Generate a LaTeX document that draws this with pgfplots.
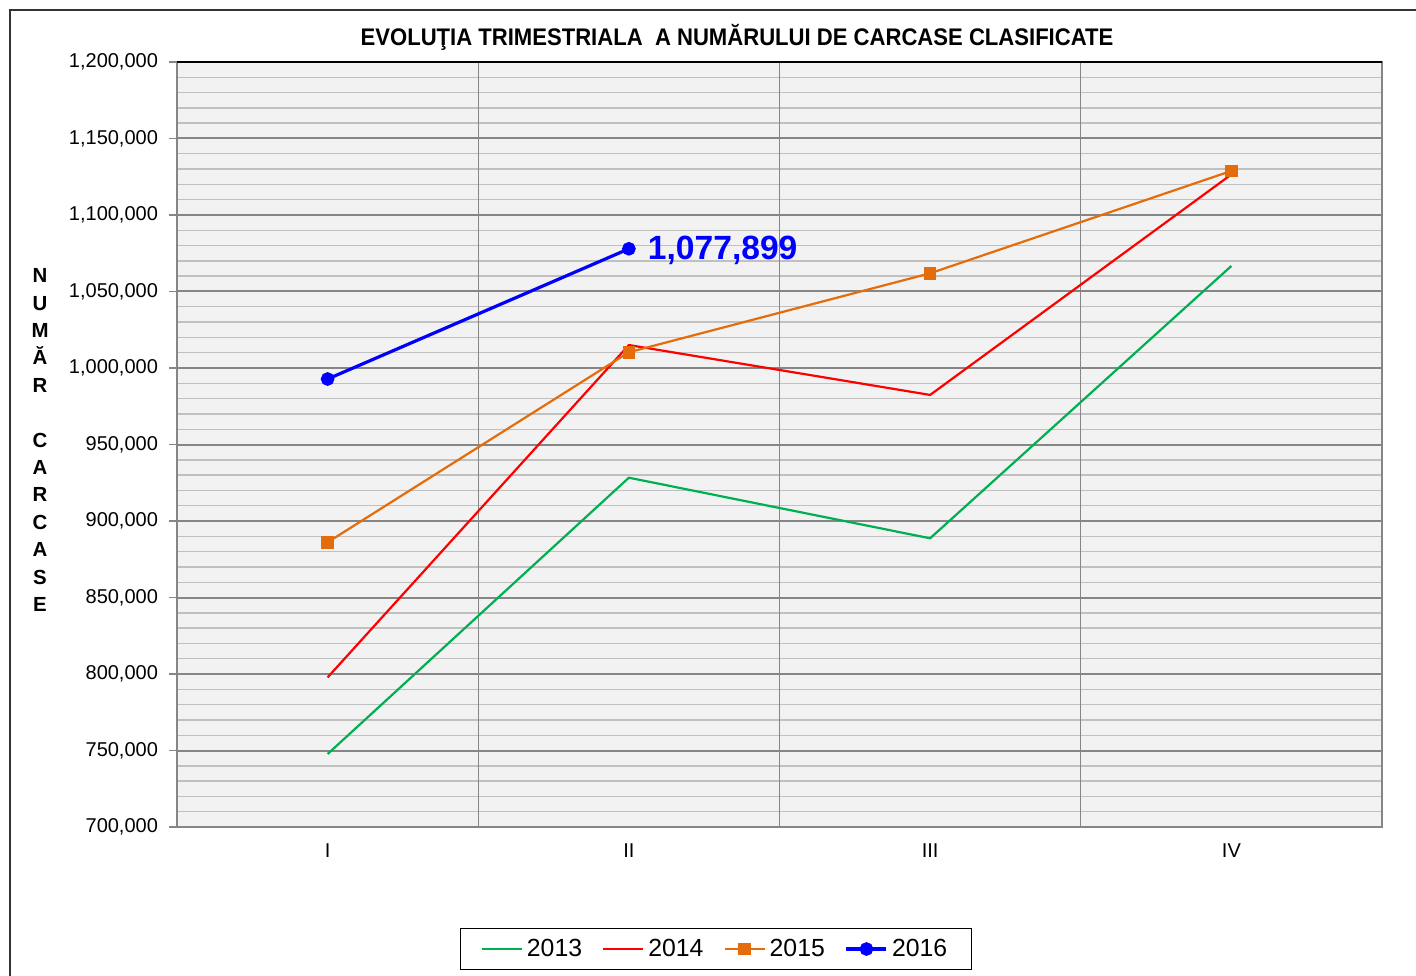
\documentclass[border=0pt]{standalone}
\usepackage{pgfplots}
\pgfplotsset{compat=1.18}
\usepackage{graphicx}
\usepackage{fontspec}
\setmainfont{Liberation Sans}
\definecolor{c13}{RGB}{0,176,80}
\definecolor{c14}{RGB}{255,0,0}
\definecolor{c15}{RGB}{228,108,10}
\definecolor{c16}{RGB}{0,0,255}
\definecolor{bgc}{RGB}{242,242,242}
\definecolor{majg}{RGB}{134,134,134}
\definecolor{ming}{RGB}{192,192,192}
\begin{document}
\begin{tikzpicture}[x=1pt,y=1pt]
\useasboundingbox (0,0) rectangle (708,487.5);
\draw[line width=0.8pt, black!80] (5,-5) -- (5,482.5) -- (720,482.5);
\begin{axis}[
  at={(88.5pt,74pt)}, anchor=south west,
  scale only axis, width=602.5pt, height=382.5pt,
  xmin=-0.5, xmax=3.5, ymin=700000, ymax=1200000,
  axis background/.style={fill=bgc},
  xtick={0,1,2,3}, xticklabels={I,II,III,IV},
  major x tick style={draw=none},
  extra x ticks={-0.5,0.5,1.5,2.5,3.5}, extra x tick labels={},
  extra x tick style={grid=major, major grid style={majg, line width=0.6pt}, major tick length=4pt, tick style={majg, line width=0.6pt}},
  ytick={700000,750000,...,1200000},
  minor y tick num=4,
  ymajorgrids, yminorgrids,
  major y grid style={majg, line width=1pt},
  minor y grid style={ming, line width=0.7pt},
  minor tick length=0pt,
  major tick length=4pt,
  tick align=outside, tick pos=left,
  y tick style={majg, line width=0.8pt},
  axis line style={majg, line width=1pt},
  scaled y ticks=false,
  yticklabel style={/pgf/number format/fixed, /pgf/number format/1000 sep={,}, /pgf/number format/assume math mode=true, xshift=-2pt},
  ticklabel style={font=\fontsize{10}{12}\selectfont},
  xticklabel style={yshift=-1pt},
  legend columns=4,
  legend style={at={(0.4473,-0.1595)}, anchor=center, draw=black, line width=0.6pt,
    font=\fontsize{12.4}{14}\selectfont, inner xsep=10pt, inner ysep=3pt,
    /tikz/every even column/.append style={column sep=8pt}},
  legend image code/.code={\draw[mark repeat=2, mark phase=2, #1] plot coordinates {(0pt,0pt) (10pt,0pt) (20pt,0pt)};},
]
\addplot[c13, line width=1.1pt] coordinates {(0,747700) (1,928300) (2,888700) (3,1066700)};
\addlegendentry{2013}
\addplot[c14, line width=1.1pt] coordinates {(0,797800) (1,1015000) (2,982400) (3,1126500)};
\addlegendentry{2014}
\addplot[c15, line width=1.1pt, mark=square*, mark size=2.6pt, mark options={solid}] coordinates {(0,886100) (1,1010300) (2,1061900) (3,1128800)};
\addlegendentry{2015}
\addplot[c16, line width=1.6pt, mark=*, mark size=2.6pt] coordinates {(0,992800) (1,1077899)};
\addlegendentry{2016}
\node[anchor=west, text=c16, font=\bfseries\fontsize{16.8}{18}\selectfont, xshift=6pt, yshift=-1pt] at (axis cs:1,1077899) {1,077,899};
\draw[black, line width=1pt] (rel axis cs:0,1) -- (rel axis cs:1,1);
\end{axis}
\node[font=\bfseries\fontsize{12}{14}\selectfont] at (368.5,469) {\scalebox{0.92}[1]{EVOLUŢIA TRIMESTRIALA\ \ A NUMĂRULUI DE CARCASE CLASIFICATE}};
\node[font=\bfseries\fontsize{10.2}{13.7}\selectfont, align=center, inner sep=0pt] at (20,267.5) {N\\U\\M\\Ă\\R\\[13.7pt]C\\A\\R\\C\\A\\S\\E};
\end{tikzpicture}
\end{document}
